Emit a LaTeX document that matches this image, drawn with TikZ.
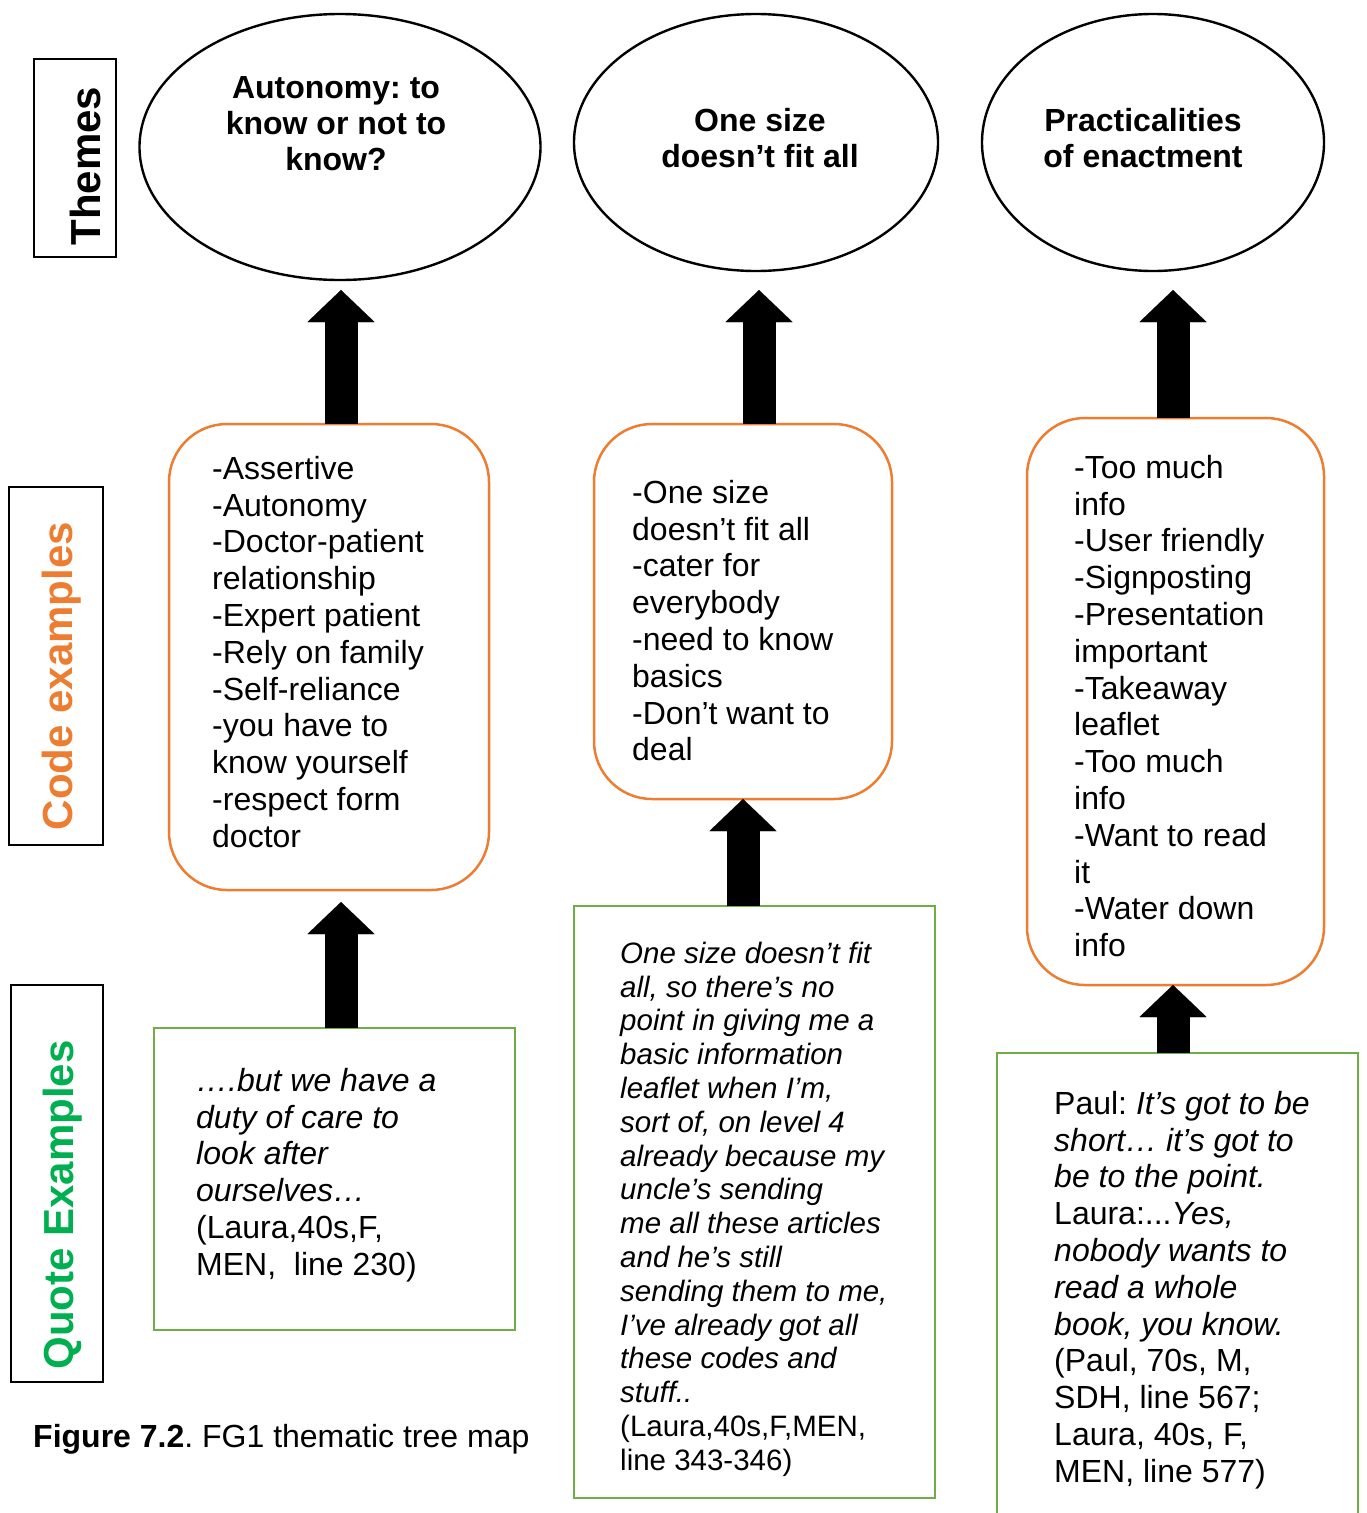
\documentclass[tikz,border=0pt]{standalone}
\usepackage{fontspec}
\setmainfont{Liberation Sans}
\usetikzlibrary{shapes.geometric,arrows.meta}
\definecolor{orangeC}{HTML}{ED7D31}
\definecolor{greenT}{HTML}{00B050}
\definecolor{greenB}{HTML}{70AD47}
\newcommand\tstrut{\rule{0pt}{25pt}}
\frenchspacing
\begin{document}
\begin{tikzpicture}[x=1pt,y=-1pt,
  labelbox/.style={draw=black, line width=1.3pt, inner sep=0, outer sep=0},
  theme/.style={draw, ellipse, line width=2.4pt, inner sep=0, outer sep=0},
  themetext/.style={font=\bfseries\fontsize{32pt}{36pt}\selectfont, align=center, anchor=north, inner sep=0},
  codebox/.style={draw=orangeC, line width=2.5pt, rounded corners=58pt, inner sep=0, outer sep=0},
  quotebox/.style={draw=greenB, line width=2.5pt, inner sep=0, outer sep=0},
  bodytext/.style={font=\fontsize{32pt}{36.8pt}\selectfont, align=left, anchor=north west, inner sep=0},
  smalltext/.style={font=\fontsize{29.5pt}{33.8pt}\selectfont, align=left, anchor=north west, inner sep=0},
  vlabel/.style={font=\bfseries\fontsize{42pt}{42pt}\selectfont, rotate=90, anchor=base, inner sep=0},
  blockarrow/.style={line width=33pt, -{Triangle[width=67pt,length=32pt,line width=0.01pt]}}
]
\useasboundingbox (0,0) rectangle (1367,1513);
\fill[white] (0,0) rectangle (1367,1513);

% row labels
\node[labelbox, minimum width=82pt, minimum height=198pt] (lt) at (75,158) {};
\node[vlabel] (ltt) at (100,166) {Themes};
\node[labelbox, minimum width=94pt, minimum height=358pt] (lc) at (56,666) {};
\node[vlabel, text=orangeC] (lct) at (72,676) {Code examples};
\node[labelbox, minimum width=92pt, minimum height=397pt] (lq) at (57,1183.5) {};
\node[vlabel, text=greenT] (lqt) at (73,1205) {Quote Examples};

% themes
\node[theme, minimum width=401pt, minimum height=266pt] (t1) at (340,147) {};
\node[themetext] (t1txt) at (336,73) {\tstrut Autonomy: to\\know or not to\\know?};
\node[theme, minimum width=364pt, minimum height=257pt] (t2) at (756,142.5) {};
\node[themetext] (t2txt) at (760,106) {\tstrut One size\\doesn’t fit all};
\node[theme, minimum width=342pt, minimum height=257pt] (t3) at (1153,142.5) {};
\node[themetext] (t3txt) at (1143,106) {\tstrut Practicalities\\of enactment};

% code boxes
\node[codebox, minimum width=320pt, minimum height=466pt] (c1) at (329,657) {};
\node[bodytext] (c1txt) at (212,454) {\tstrut-Assertive\\-Autonomy\\-Doctor-patient\\relationship\\-Expert patient\\-Rely on family\\-Self-reliance\\-you have to\\know yourself\\-respect form\\doctor};
\node[codebox, minimum width=298pt, minimum height=375pt] (c2) at (743,611.5) {};
\node[bodytext] (c2txt) at (632,478) {\tstrut-One size\\doesn’t fit all\\-cater for\\everybody\\-need to know\\basics\\-Don’t want to\\deal};
\node[codebox, minimum width=297pt, minimum height=567pt] (c3) at (1175.5,701.5) {};
\node[bodytext] (c3txt) at (1074,453) {\tstrut-Too much\\info\\-User friendly\\-Signposting\\-Presentation\\important\\-Takeaway\\leaflet\\-Too much\\info\\-Want to read\\it\\-Water down\\info};

% quote boxes
\node[quotebox, minimum width=361pt, minimum height=302pt] (q1) at (334.5,1179) {};
\node[bodytext] (q1txt) at (196,1066) {\tstrut\textit{….but we have a}\\\textit{duty of care to}\\\textit{look after}\\\textit{ourselves…}\\(Laura,40s,F,\\MEN,\ \ line 230)};
\node[quotebox, minimum width=361pt, minimum height=592pt] (q2) at (754.5,1202) {};
\node[smalltext] (q2txt) at (620,938) {\tstrut\textit{One size doesn’t fit}\\\textit{all, so there’s no}\\\textit{point in giving me a}\\\textit{basic information}\\\textit{leaflet when I’m,}\\\textit{sort of, on level 4}\\\textit{already because my}\\\textit{uncle’s sending}\\\textit{me all these articles}\\\textit{and he’s still}\\\textit{sending them to me,}\\\textit{I’ve already got all}\\\textit{these codes and}\\\textit{stuff..}\\(Laura,40s,F,MEN,\\line 343-346)};
\node[quotebox, minimum width=361pt, minimum height=500pt] (q3) at (1177.5,1303) {};
\node[bodytext] (q3txt) at (1054,1089) {\tstrut Paul: \textit{It’s got to be}\\\textit{short… it’s got to}\\\textit{be to the point.}\\Laura:...\textit{Yes,}\\\textit{nobody wants to}\\\textit{read a whole}\\\textit{book, you know.}\\(Paul, 70s, M,\\SDH, line 567;\\Laura, 40s, F,\\MEN, line 577)};

% caption
\node[font=\fontsize{32pt}{36pt}\selectfont, anchor=base west, inner sep=0] (cap) at (33,1447) {\textbf{Figure 7.2}. FG1 thematic tree map};

% arrows
\coordinate (xa) at (341,0);
\coordinate (xb) at (759,0);
\coordinate (xc) at (1173,0);
\coordinate (xd) at (743,0);
\draw[blockarrow, shorten >=10pt] (xa |- c1.north) -- (xa |- t1.south);
\draw[blockarrow, shorten >=19pt] (xb |- c2.north) -- (xb |- t2.south);
\draw[blockarrow, shorten >=19pt] (xc |- c3.north) -- (xc |- t3.south);
\draw[blockarrow, shorten >=12pt] (xa |- q1.north) -- (xa |- c1.south);
\draw[blockarrow] (xd |- q2.north) -- (xd |- c2.south);
\draw[blockarrow] (xc |- q3.north) -- (xc |- c3.south);
\end{tikzpicture}
\end{document}
